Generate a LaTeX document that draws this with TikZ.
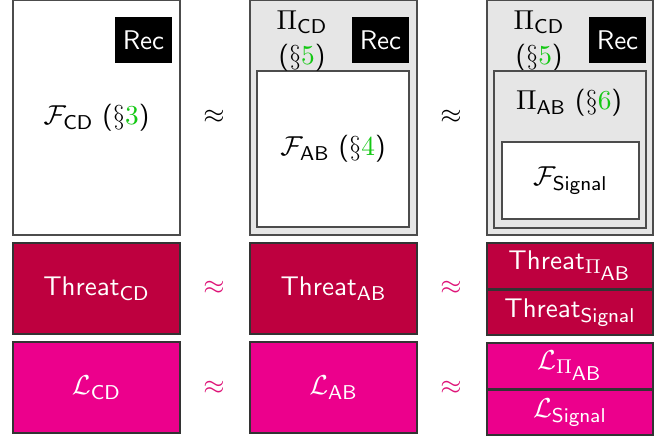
\documentclass[tikz,border=0pt]{standalone}
\usepackage{amsmath,amssymb}
\definecolor{threatc}{RGB}{190,0,63}
\definecolor{lossc}{RGB}{236,0,140}
\definecolor{secg}{RGB}{20,200,20}
\definecolor{approxc}{RGB}{222,20,120}
\definecolor{greyfill}{RGB}{230,230,230}
\newcommand\secn[1]{\textcolor{secg}{#1}}
\newcommand\mybox[7]{\node[#2, anchor=north west, minimum width={(#5-#3)*0.4pt}, minimum height={(#6-#4)*0.4pt}] (#1) at (#3,#4) {#7};}
\newcommand\bigfont{\fontsize{10.8}{13}\selectfont\sffamily}
\tikzset{
  base/.style={rectangle, inner sep=0pt, outer sep=0pt, font=\bigfont},
  whitebox/.style={base, draw=black!70, fill=white, line width=0.5pt},
  greybox/.style={base, draw=black!70, fill=greyfill, line width=0.5pt},
  recbox/.style={base, fill=black, text=white},
  threatbox/.style={base, draw=black!80, fill=threatc, text=white, line width=0.5pt},
  lossbox/.style={base, draw=black!80, fill=lossc, text=white, line width=0.5pt},
  lbl/.style={inner sep=0pt, font=\bigfont},
  apx/.style={inner sep=0pt, font=\bigfont},
}
\begin{document}
\begin{tikzpicture}[x=0.4pt, y=-0.4pt]
\useasboundingbox (0,0) rectangle (657,437);
% column 1 top
\mybox{c1}{whitebox}{13}{0.6}{180}{235}{$\mathcal{F}_{\mathsf{CD}}$ ($\S\secn{3}$)}
\mybox{rec1}{recbox}{115}{17}{172}{63}{Rec}
% column 2 top
\mybox{c2}{greybox}{250}{0.6}{417}{235}{}
\mybox{rec2}{recbox}{352}{17}{409}{63}{Rec}
\mybox{c2in}{whitebox}{257}{71}{409}{227}{$\mathcal{F}_{\mathsf{AB}}$ ($\S\secn{4}$)}
\node[lbl, align=center] (pi2) at (302,41) {$\Pi_{\mathsf{CD}}$\\[1pt]($\S\secn{5}$)};
% column 3 top
\mybox{c3}{greybox}{487}{0.6}{653}{235}{}
\mybox{rec3}{recbox}{589}{17}{646}{63}{Rec}
\node[lbl, align=center] (pi3) at (539,41) {$\Pi_{\mathsf{CD}}$\\[1pt]($\S\secn{5}$)};
\mybox{c3in}{greybox}{494}{71}{646}{228}{}
\node[lbl] (piab) at (569,103) {$\Pi_{\mathsf{AB}}$ ($\S\secn{6}$)};
\mybox{c3sig}{whitebox}{502}{142}{639}{219}{$\mathcal{F}_{\mathsf{Signal}}$}
% threat row
\mybox{t1}{threatbox}{13}{243}{180}{334}{Threat$_{\mathsf{CD}}$}
\mybox{t2}{threatbox}{250}{243}{417}{334}{Threat$_{\mathsf{AB}}$}
\mybox{t3a}{threatbox}{487}{243}{653}{289}{Threat$_{\Pi_{\scriptstyle\mathsf{AB}}}$}
\mybox{t3b}{threatbox}{487}{290}{653}{335}{Threat$_{\mathsf{Signal}}$}
% loss row
\mybox{l1}{lossbox}{13}{342}{180}{433}{$\mathcal{L}_{\mathsf{CD}}$}
\mybox{l2}{lossbox}{250}{342}{417}{433}{$\mathcal{L}_{\mathsf{AB}}$}
\mybox{l3a}{lossbox}{487}{343}{653}{389}{$\mathcal{L}_{\Pi_{\scriptstyle\mathsf{AB}}}$}
\mybox{l3b}{lossbox}{487}{390}{653}{435}{$\mathcal{L}_{\mathsf{Signal}}$}
% approx signs
\node[apx] (a1) at (214,117) {$\approx$};
\node[apx] (a2) at (451,117) {$\approx$};
\node[apx, text=approxc] (a3) at (214,288) {$\approx$};
\node[apx, text=approxc] (a4) at (451,288) {$\approx$};
\node[apx, text=approxc] (a5) at (214,388) {$\approx$};
\node[apx, text=approxc] (a6) at (451,388) {$\approx$};
\end{tikzpicture}
\end{document}
